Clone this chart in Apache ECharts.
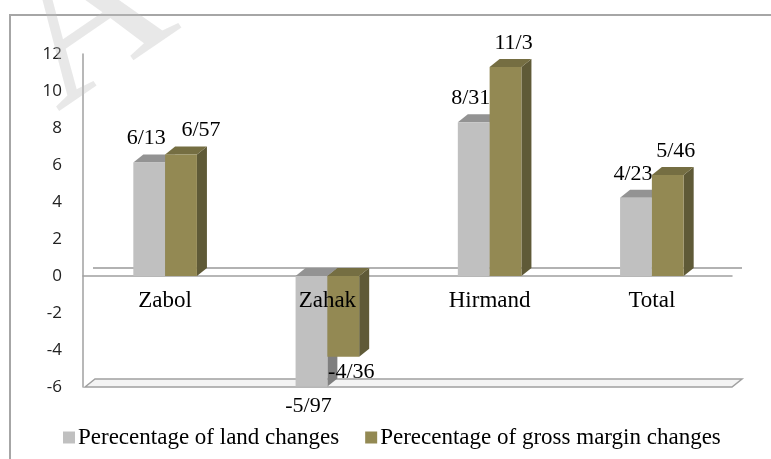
<!DOCTYPE html>
<html>
<head>
<meta charset="utf-8">
<script src="https://cdn.jsdelivr.net/npm/echarts@6/dist/echarts.min.js"></script>
<style>html,body{margin:0;padding:0;background:#fff;}#c{width:771px;height:459px;}</style>
</head>
<body>
<div id="c"></div>
<script>
var categories = ['Zabol', 'Zahak', 'Hirmand', 'Total'];
var landChanges = [6.13, -5.97, 8.31, 4.23];
var grossMarginChanges = [6.57, -4.36, 11.3, 5.46];
var seriesNames = ['Perecentage of land changes', 'Perecentage of gross margin changes'];
var yMin = -6, yMax = 12, yInterval = 2;

function fmt(v) { return String(v.toFixed(2)).replace(/0+$/, '').replace(/\.$/, '').replace('.', '/'); }

var DX = 10, DY = -8;
var SERIF = '"Liberation Serif", "Times New Roman", serif';
var palettes = [
  { front: '#c0c0c0', top: '#939393', side: '#7f7f7f' },
  { front: '#938953', top: '#756e42', side: '#5f5a37' }
];

function makeRender(sIdx) {
  return function (params, api) {
    var ci = api.value(0), v = api.value(1);
    var band = api.size([1, 0])[0];
    var w = band * 0.196;
    var c = api.coord([ci, 0]);
    var y0 = c[1];
    var yv = api.coord([ci, v])[1];
    var x0 = c[0] + 1 + (sIdx === 0 ? -w : 0);
    var x1 = x0 + w;
    var p = palettes[sIdx];
    var children = [];
    var topY = Math.min(y0, yv), botY = Math.max(y0, yv);
    children.push({ type: 'polygon', shape: { points: [[x1, topY], [x1 + DX, topY + DY], [x1 + DX, botY + DY], [x1, botY]] }, style: { fill: p.side } });
    children.push({ type: 'polygon', shape: { points: [[x0, topY], [x0 + DX, topY + DY], [x1 + DX, topY + DY], [x1, topY]] }, style: { fill: p.top } });
    children.push({ type: 'rect', shape: { x: x0, y: topY, width: w, height: botY - topY }, style: { fill: p.front } });
    var cx = (x0 + x1) / 2 + (sIdx === 0 ? -3 : 8);
    var ly = v >= 0 ? yv + DY - 16 : yv + 20;
    if (sIdx === 1 && ci === 0) cx += 12;
    if (v < 0 && sIdx === 1) ly -= 4;
    children.push({ type: 'text', style: { text: fmt(v), x: cx, y: ly, align: 'center', verticalAlign: 'middle', font: '22px ' + SERIF, fill: '#000' }, z2: 10 });
    return { type: 'group', children: children };
  };
}

var chart = echarts.init(document.getElementById('c'), null, { renderer: 'canvas' });
var option = {
  animation: false,
  backgroundColor: '#fff',
  grid: { left: 83, right: 39, top: 54, bottom: 72 },
  legend: {
    left: 58, top: 421, itemWidth: 12, itemHeight: 12, itemGap: 26, icon: 'rect',
    textStyle: { fontFamily: SERIF, fontSize: 23, color: '#000', padding: [0, 0, 0, -2] },
    data: seriesNames
  },
  xAxis: {
    type: 'category', data: categories,
    axisLine: { onZero: true, lineStyle: { color: '#a0a0a0', width: 1.5 } },
    axisTick: { show: false },
    axisLabel: { show: false }
  },
  yAxis: {
    type: 'value', min: yMin, max: yMax, interval: yInterval,
    axisLine: { show: true, onZero: false, lineStyle: { color: '#a0a0a0', width: 1.5 } },
    axisTick: { show: false },
    splitLine: { show: false },
    axisLabel: { margin: 21, fontFamily: '"Open Sans", sans-serif', fontSize: 17, color: '#222' }
  },
  series: [
    { name: seriesNames[0], type: 'custom', renderItem: makeRender(0), itemStyle: { color: palettes[0].front },
      encode: { x: 0, y: 1 }, data: landChanges.map(function (v, i) { return [i, v]; }), z: 5 },
    { name: seriesNames[1], type: 'custom', renderItem: makeRender(1), itemStyle: { color: palettes[1].front },
      encode: { x: 0, y: 1 }, data: grossMarginChanges.map(function (v, i) { return [i, v]; }), z: 6 }
  ]
};
chart.setOption(option);

var xAxisModel = chart.getModel().getComponent('xAxis', 0);
var bw = xAxisModel.axis.getBandWidth();
var pZ0 = chart.convertToPixel({ yAxisIndex: 0 }, 0);
var pMin = chart.convertToPixel({ yAxisIndex: 0 }, yMin);
var xL = chart.convertToPixel({ xAxisIndex: 0 }, 0) - bw / 2;
var xR = xL + bw * categories.length;
var graphics = [
  { type: 'polyline', shape: { points: [[10, 459], [10, 15], [771, 15]] }, style: { stroke: '#a6a6a6', lineWidth: 2, fill: null }, z: 0 },
  { type: 'line', shape: { x1: xL + DX, y1: pZ0 + DY, x2: xR + DX, y2: pZ0 + DY }, style: { stroke: '#999', lineWidth: 1.5 }, z: 1 },
  { type: 'polygon', shape: { points: [[xL + 2, pMin], [xL + 2 + DX, pMin + DY], [xR + DX, pMin + DY], [xR, pMin]] }, style: { fill: '#f4f4f4', stroke: '#a0a0a0', lineWidth: 1.5 }, z: 1 },
  { type: 'text', style: { text: 'A', x: 60, y: 70, align: 'center', verticalAlign: 'middle', font: '210px ' + SERIF, fill: 'rgba(190,190,190,0.35)' }, rotation: 0.6, z: 100, silent: true }
];
categories.forEach(function (name, i) {
  var px = chart.convertToPixel({ xAxisIndex: 0 }, i);
  graphics.push({ type: 'text', style: { text: name, x: px + 1, y: pZ0 + 25, align: 'center', verticalAlign: 'middle', font: '23px ' + SERIF, fill: '#000' }, z: 50 });
});
chart.setOption({ graphic: graphics });
</script>
</body>
</html>
